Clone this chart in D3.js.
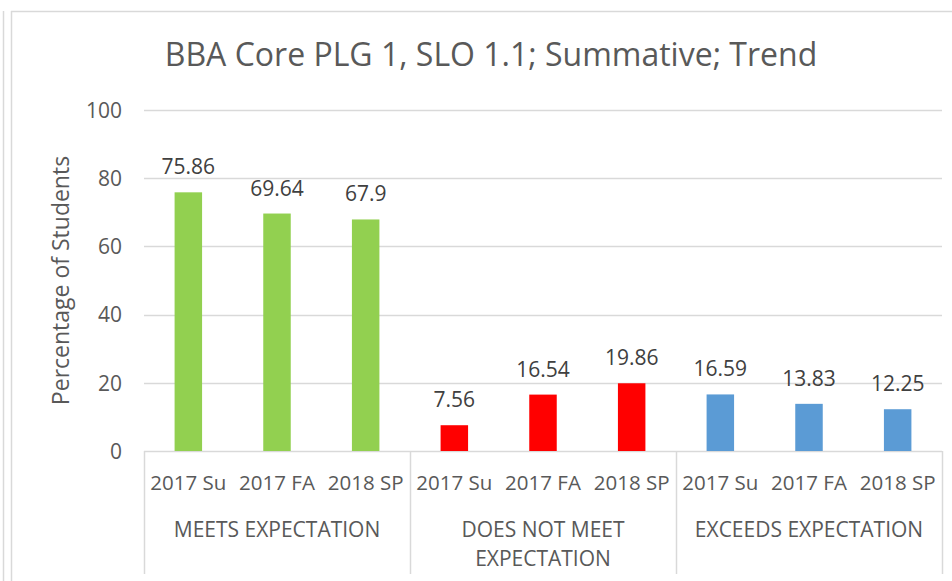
<!DOCTYPE html>
<html><head><meta charset="utf-8">
<script src="https://cdn.jsdelivr.net/npm/d3@7"></script>
<style>body{margin:0;background:#fff}svg{display:block;font-family:"Open Sans",sans-serif}</style>
</head><body><svg id="c" width="952" height="581"></svg>
<script>
const title = "BBA Core PLG 1, SLO 1.1; Summative; Trend";
const yTitle = "Percentage of Students";
const groups = [["MEETS EXPECTATION"], ["DOES NOT MEET", "EXPECTATION"], ["EXCEEDS EXPECTATION"]];
const terms = ["2017 Su", "2017 FA", "2018 SP"];
const meets = [75.86, 69.64, 67.9];
const notMeet = [7.56, 16.54, 19.86];
const exceeds = [16.59, 13.83, 12.25];
const groupColors = ["#92D050", "#FF0000", "#5B9BD5"];
const yTicks = [0, 20, 40, 60, 80, 100];

const seriesVals = [meets, notMeet, exceeds];
const data = [];
seriesVals.forEach((vals, gi) => vals.forEach((v, ti) => data.push({g: gi, t: ti, key: gi + "-" + ti, label: terms[ti], v})));

const svg = d3.select("#c");
const grid = "#d9d9d9", txt = "#595959";
const L = 144, R = 942, T = 110, B = 451;

// chart border
svg.append("line").attr("x1", 3.5).attr("x2", 3.5).attr("y1", 11).attr("y2", 581).attr("stroke", grid).attr("stroke-width", 1.5);
svg.append("line").attr("x1", 11.5).attr("x2", 11.5).attr("y1", 11).attr("y2", 581).attr("stroke", grid).attr("stroke-width", 1.5);
svg.append("line").attr("x1", 11).attr("x2", 952).attr("y1", 11.5).attr("y2", 11.5).attr("stroke", grid).attr("stroke-width", 1.5);

const x = d3.scaleBand().domain(data.map(d => d.key)).range([L, R]).paddingInner(0.69).paddingOuter(0.345);
const y = d3.scaleLinear().domain([0, 100]).range([B, T]);

// gridlines
svg.append("g").selectAll("line").data(yTicks).join("line")
  .attr("x1", L).attr("x2", R).attr("y1", d => Math.round(y(d)) + 0.5).attr("y2", d => Math.round(y(d)) + 0.5)
  .attr("stroke", grid).attr("stroke-width", 1.5);

// y axis labels
const yAxis = d3.axisLeft(y).tickValues(yTicks).tickSize(0).tickPadding(0);
const ya = svg.append("g").attr("transform", `translate(${L - 22},0)`).call(yAxis);
ya.select(".domain").remove();
ya.selectAll("text").attr("fill", txt).style("font-size", "21px").style("font-family", "Open Sans").attr("dy", "0.35em");

// bars
svg.append("g").selectAll("rect").data(data).join("rect")
  .attr("x", d => x(d.key)).attr("width", x.bandwidth())
  .attr("y", d => y(d.v)).attr("height", d => y(0) - y(d.v))
  .attr("fill", d => groupColors[d.g]);

// data labels
svg.append("g").selectAll("text").data(data).join("text")
  .attr("x", d => x(d.key) + x.bandwidth() / 2).attr("y", d => y(d.v) - 18)
  .attr("text-anchor", "middle").attr("fill", "#404040").style("font-size", "21px")
  .text(d => d.v);

// category axis
const sepX = [0, 1, 2, 3].map(i => L + i * 3 * (R - L) / 9);
svg.append("g").selectAll("line").data(sepX).join("line")
  .attr("x1", d => Math.round(d) + 0.5).attr("x2", d => Math.round(d) + 0.5).attr("y1", B).attr("y2", 574)
  .attr("stroke", grid).attr("stroke-width", 1.5);

svg.append("g").selectAll("text").data(data).join("text")
  .attr("x", d => x(d.key) + x.bandwidth() / 2).attr("y", 490)
  .attr("text-anchor", "middle").attr("fill", txt).style("font-size", "20.5px")
  .text(d => d.label);

const gl = svg.append("g").selectAll("text").data(groups).join("text")
  .attr("text-anchor", "middle").attr("fill", txt).style("font-size", "21px")
  .attr("transform", (d, i) => `translate(${(sepX[i] + sepX[i + 1]) / 2},537)`);
gl.selectAll("tspan").data(d => d).join("tspan")
  .attr("x", 0).attr("y", (d, i) => i * 29).text(d => d);

// titles
svg.append("text").attr("x", 491).attr("y", 66).attr("text-anchor", "middle")
  .attr("fill", txt).style("font-size", "32px").text(title);
svg.append("text").attr("transform", `translate(69,${(T + B) / 2}) rotate(-90)`)
  .attr("text-anchor", "middle").attr("fill", txt).style("font-size", "23px").text(yTitle);
</script></body></html>
